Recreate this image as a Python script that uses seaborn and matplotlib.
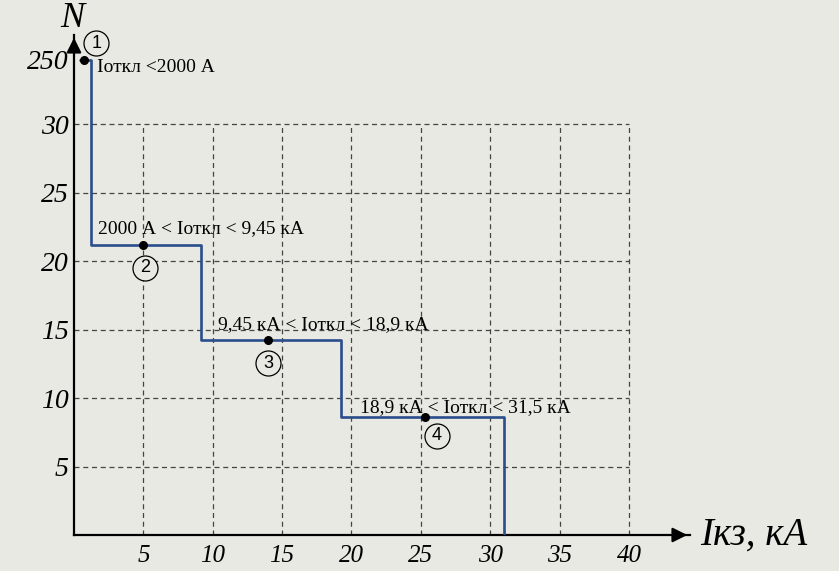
"""Step chart: number of allowed operations N vs short-circuit current"""

import matplotlib.pyplot as plt
import seaborn as sns
import pandas as pd

# step boundaries (kA) and plotted levels; the top level 250 sits on a broken axis
step_x = [0.45, 1.25, 9.15, 19.25, 31.0]
step_level = [34.7, 21.2, 14.2, 8.6, 0.0]

# marked points on each step and their circled numbers
point_x = [0.72, 5.0, 13.95, 25.3]
point_y = [34.7, 21.2, 14.2, 8.6]
circle_x = [1.6, 5.12, 13.99, 26.17]
circle_y = [35.9, 19.5, 12.55, 7.23]
circle_labels = ["1", "2", "3", "4"]

# range annotations
range_labels = [
    "Iоткл <2000 А",
    "2000 А < Iоткл < 9,45 кА",
    "9,45 кА < Iоткл < 18,9 кА",
    "18,9 кА < Iоткл < 31,5 кА",
]
range_x = [1.66, 1.73, 10.38, 20.62]
range_y = [34.1, 22.34, 15.33, 9.27]

x_ticks = [5, 10, 15, 20, 25, 30, 35, 40]
y_ticks = [5, 10, 15, 20, 25, 30, 34.7]
y_tick_labels = ["5", "10", "15", "20", "25", "30", "250"]

BG = "#e9e9e3"
LINE = "#2a4d8c"
GRID = "#444444"

sns.set_style("white", {"axes.facecolor": BG, "figure.facecolor": BG})
plt.rcParams["font.family"] = ["Liberation Serif", "DejaVu Serif"]
plt.rcParams["text.color"] = "black"
plt.rcParams["xtick.color"] = "black"
plt.rcParams["ytick.color"] = "black"

fig = plt.figure(figsize=(8.39, 5.71), dpi=100, facecolor=BG)
# axes placed so the origin lands where the reference has it
ax = fig.add_axes([74 / 839, 36 / 571, (690 - 74) / 839, (535 - 35) / 571])
ax.set_xlim(0, 44.4)
ax.set_ylim(0, 36.5)

# dashed grid, limited to the 0..40 / 0..30 box
ax.hlines([5, 10, 15, 20, 25, 30], 0, 40, colors=GRID, linestyles=(0, (4, 3)), lw=0.9, zorder=1)
ax.vlines(x_ticks, 0, 30, colors=GRID, linestyles=(0, (4, 3)), lw=0.9, zorder=1)

# step line
df = pd.DataFrame({"x": step_x, "y": step_level})
sns.lineplot(data=df, x="x", y="y", ax=ax, color=LINE, lw=1.9, sort=False,
             estimator=None, drawstyle="steps-post", zorder=3)

# points
ax.plot(point_x, point_y, "o", color="black", ms=5.5, zorder=4)

# circled numbers
ax.plot(circle_x, circle_y, "o", ms=18, mfc=BG, mec="black", mew=0.9, zorder=5, clip_on=False)
for cx, cy, lab in zip(circle_x, circle_y, circle_labels):
    ax.text(cx, cy, lab, ha="center", va="center", fontsize=13,
            family=["Liberation Sans", "DejaVu Sans"], zorder=6, clip_on=False)

for tx, ty, lab in zip(range_x, range_y, range_labels):
    ax.text(tx, ty, lab, ha="left", va="center", fontsize=14, zorder=6, clip_on=False)

# axes with arrows
for side in ["top", "right"]:
    ax.spines[side].set_visible(False)
for side in ["left", "bottom"]:
    ax.spines[side].set_linewidth(1.6)
    ax.spines[side].set_color("black")
ax.annotate("", xy=(44.4, 0), xytext=(43, 0),
            arrowprops=dict(arrowstyle="-|>", color="black", lw=1.6, mutation_scale=22),
            annotation_clip=False)
ax.annotate("", xy=(0, 36.5), xytext=(0, 35.3),
            arrowprops=dict(arrowstyle="-|>", color="black", lw=1.6, mutation_scale=22),
            annotation_clip=False)

ax.set_xticks(x_ticks)
ax.set_xticklabels([str(v) for v in x_ticks], fontsize=18, style="italic")
ax.set_yticks(y_ticks)
ax.set_yticklabels(y_tick_labels, fontsize=20, style="italic")
ax.tick_params(axis="x", length=0, pad=7)
ax.tick_params(axis="y", length=0, pad=4)
ax.set_xlabel("")
ax.set_ylabel("")

ax.text(45.1, 0, "Iкз, кА", ha="left", va="center", fontsize=28, style="italic", clip_on=False)
ax.text(-0.14, 37.7, "N", ha="center", va="center", fontsize=26, style="italic", clip_on=False)

plt.savefig("out.png", dpi=100, facecolor=BG)
plt.close()
